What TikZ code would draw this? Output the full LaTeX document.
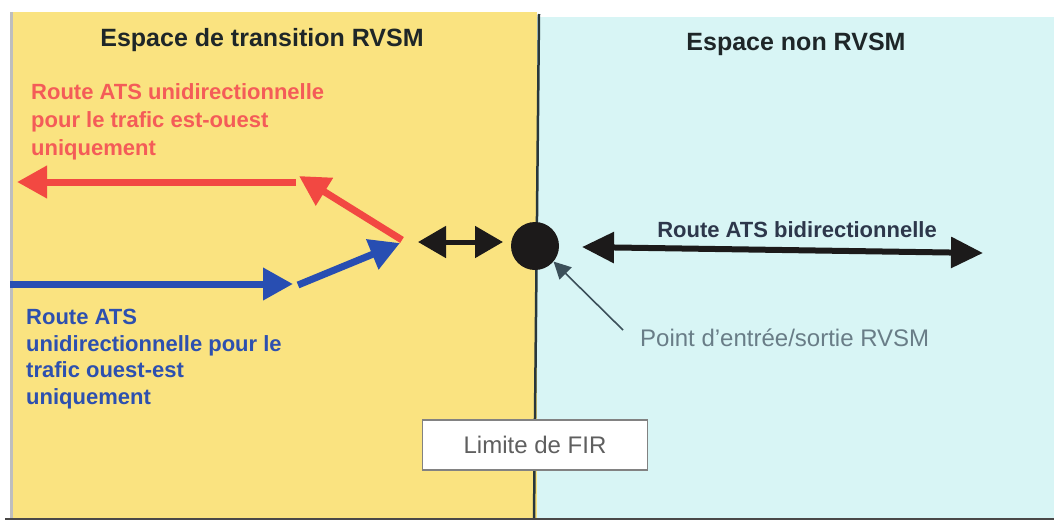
\documentclass[tikz,border=0pt]{standalone}
\usepackage{fontspec}
\setmainfont{Liberation Sans}
\usetikzlibrary{arrows.meta}
\definecolor{zoneyellow}{RGB}{250,227,128}
\definecolor{zonecyan}{RGB}{216,245,245}
\definecolor{routered}{RGB}{242,72,66}
\definecolor{textred}{RGB}{244,92,88}
\definecolor{routeblue}{RGB}{40,78,178}
\definecolor{textblue}{RGB}{45,80,175}
\definecolor{inkdark}{RGB}{28,26,26}
\definecolor{titleink}{RGB}{30,38,40}
\definecolor{bidiink}{RGB}{45,55,75}
\definecolor{pointergray}{RGB}{60,80,90}
\definecolor{labelgray}{RGB}{105,125,135}
\definecolor{boxgray}{RGB}{95,95,95}
\definecolor{boxborder}{RGB}{130,130,130}
\definecolor{edgegray}{RGB}{190,190,190}
\definecolor{firline}{RGB}{40,55,60}
\begin{document}
\begin{tikzpicture}[x=1pt,y=-1pt,
  titletext/.style={font=\fontsize{25}{30}\selectfont\bfseries, text=titleink, inner sep=0pt},
  redtext/.style={font=\fontsize{22}{28}\selectfont\bfseries, text=textred, align=left, inner sep=0pt, anchor=north west},
  bluetext/.style={font=\fontsize{22}{26.7}\selectfont\bfseries, text=textblue, align=left, inner sep=0pt, anchor=north west},
  redroute/.style={draw=routered, line width=7pt, -{Triangle[length=30pt,width=31pt]}},
  blueroute/.style={draw=routeblue, line width=7pt, -{Triangle[length=30pt,width=31pt]}},
  shortbidi/.style={draw=inkdark, line width=5pt, {Triangle[length=28pt,width=31pt]}-{Triangle[length=28pt,width=31pt]}},
  longbidi/.style={draw=inkdark, line width=6pt, {Triangle[length=32pt,width=30pt]}-{Triangle[length=32pt,width=30pt]}},
  pointer/.style={draw=pointergray, line width=1.6pt, -{Triangle[length=17pt,width=17pt]}},
  firbox/.style={draw=boxborder, fill=white, line width=1.5pt, minimum width=225pt, minimum height=50pt, font=\fontsize{24}{28}\selectfont, text=boxgray}
]
\useasboundingbox (0,0) rectangle (1054,528);
% zones
\fill[zoneyellow] (13,12) rectangle (537,518);
\fill[zonecyan] (537,17) rectangle (1054,518);
\draw[edgegray, line width=3pt] (11,12) -- (11,518);
\draw[firline, line width=2.5pt] (539,14) -- (534,518);
\draw[inkdark!80, line width=2pt] (5,519) -- (1054,519);
% titles
\node[titletext] (ttrans) at (262,40) {Espace de transition RVSM};
\node[titletext] (tnon) at (796,44) {Espace non RVSM};
% labels
\node[redtext] (lred) at (31,83) {Route ATS unidirectionnelle\\pour le trafic est-ouest\\uniquement};
\node[bluetext] (lblue) at (26,309) {Route ATS\\unidirectionnelle pour le\\trafic ouest-est\\uniquement};
\node[font=\fontsize{22}{26}\selectfont\bfseries, text=bidiink, inner sep=0pt] (lbidi) at (797,230) {Route ATS bidirectionnelle};
\node[font=\fontsize{24}{28}\selectfont, text=labelgray, inner sep=0pt, anchor=west] (lpoint) at (640,338) {Point d'entrée/sortie RVSM};
\node[firbox] (fir) at (535,445) {Limite de FIR};
% entry point
\node[circle, fill=inkdark, minimum size=48pt, inner sep=0pt] (entry) at (535,246) {};
% route coordinates
\coordinate (redstart) at (402,240);
\coordinate (redbend) at (299,176);
\coordinate (redjoin) at (296,182);
\coordinate (redend) at (17,182);
\coordinate (bluestart) at (10,284);
\coordinate (bluebend) at (293,284);
\coordinate (bluejoin) at (298,285);
\coordinate (blueend) at (400,243);
\coordinate (sbl) at (418,242);
\coordinate (sbr) at (503,242);
\coordinate (lbl) at (582,247);
\coordinate (lbr) at (983,253);
\coordinate (ptail) at (623,330);
% routes
\draw[redroute] (redjoin) -- (redend);
\draw[redroute] (redstart) -- (redbend);
\draw[blueroute] (bluestart) -- (bluebend);
\draw[blueroute] (bluejoin) -- (blueend);
\draw[shortbidi] (sbl) -- (sbr);
\draw[longbidi] (lbl) -- (lbr);
\draw[pointer] (ptail) -- (entry.-40);
\end{tikzpicture}
\end{document}
